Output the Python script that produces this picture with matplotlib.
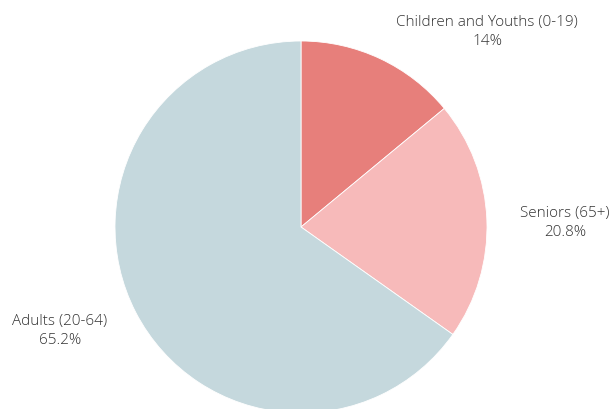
import matplotlib.pyplot as plt

groups = ["Children and Youths (0-19)", "Seniors (65+)", "Adults (20-64)"]
shares = [14, 20.8, 65.2]
colors = ["#e77f7b", "#f7baba", "#c5d8dd"]

# where each label block sits (pixel coords, y measured from the bottom)
label_pos = [(487, 378), (565, 187), (60, 79)]

plt.rcParams["font.family"] = ["Open Sans", "DejaVu Sans"]

fig = plt.figure(figsize=(6.11, 4.10), dpi=100)
ax = fig.add_axes([0, 0, 1, 1])

cx, cy, r = 301, 182, 186
wedges, _ = ax.pie(shares, colors=colors, startangle=90, counterclock=False,
                   center=(cx, cy), radius=r, frame=True,
                   wedgeprops=dict(edgecolor="white", linewidth=0.6))
ax.set_xlim(0, 611)
ax.set_ylim(0, 410)
ax.set_aspect("equal")
ax.axis("off")

for (x, y), name, val in zip(label_pos, groups, shares):
    ax.text(x, y, f"{name}\n{val:g}%", ha="center", va="center",
            fontsize=11, color="#333333", fontweight="light", linespacing=1.45)

fig.savefig("out.png", dpi=100)
